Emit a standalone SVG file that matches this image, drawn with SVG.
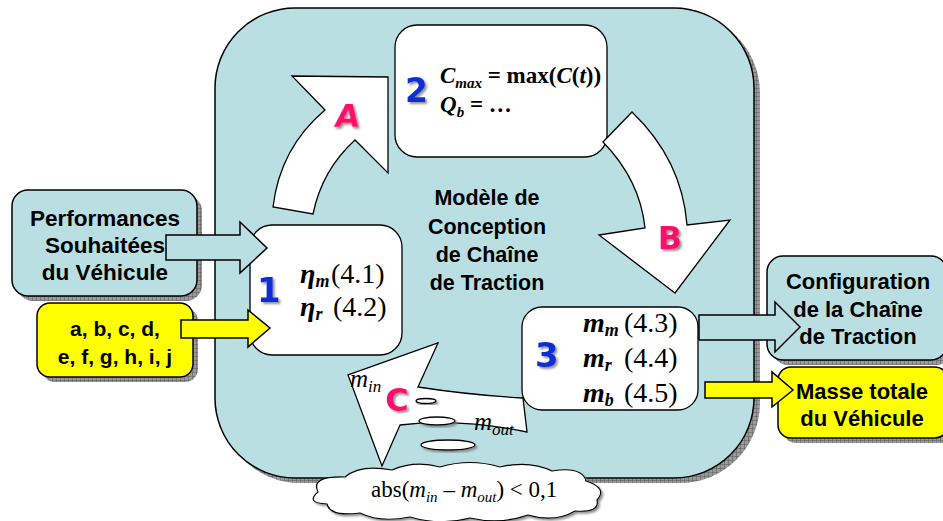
<svg xmlns="http://www.w3.org/2000/svg" width="943" height="521" viewBox="0 0 943 521">
<defs>
<pattern id="hatch" width="4" height="4" patternUnits="userSpaceOnUse">
<rect width="4" height="4" fill="#9a9a9a"/>
<path d="M0,0 H4 M0,0 V4" stroke="#5a5a5a" stroke-width="1"/>
</pattern>
<filter id="ds" x="-20%" y="-20%" width="150%" height="150%">
<feDropShadow dx="2" dy="2" stdDeviation="0.8" flood-color="#777" flood-opacity="0.8"/>
</filter>
</defs>
<style>
.teal{fill:#b9dfe3;stroke:#000;stroke-width:1.5}
.yel{fill:#ffff00;stroke:#000;stroke-width:1.5}
.wht{fill:#fff;stroke:#000;stroke-width:1.3}
.shd{fill:url(#hatch)}
.lbl{font-family:"Liberation Sans",Arial,sans-serif;font-weight:bold;fill:#000;text-anchor:middle}
.math{font-family:"Liberation Serif","Times New Roman",serif;fill:#000}
.bi{font-weight:bold;font-style:italic}
.it{font-style:italic}
.num{font-family:"DejaVu Sans",sans-serif;font-weight:bold;fill:#0b2fd4;filter:url(#ds)}
.let{font-family:"DejaVu Sans",sans-serif;font-weight:bold;fill:#ff0a6c;filter:url(#ds);text-anchor:middle}
</style>

<g id="panel">
<rect class="shd" x="220" y="13" width="540" height="470" rx="80"/>
<rect class="teal" x="215" y="8" width="539" height="470" rx="80"/>
<text class="lbl" font-size="21.5" x="487"><tspan x="487" y="205">Modèle de</tspan><tspan x="487" y="234">Conception</tspan><tspan x="487" y="262">de Chaîne</tspan><tspan x="487" y="290">de Traction</tspan></text>
</g>

<g id="perf">
<rect class="shd" x="17" y="195" width="185" height="106" rx="16"/>
<rect class="teal" x="12" y="190" width="185" height="106" rx="16"/>
<text class="lbl" font-size="22.5"><tspan x="105" y="226">Performances</tspan><tspan x="105" y="253">Souhaitées</tspan><tspan x="105" y="280">du Véhicule</tspan></text>
</g>

<g id="params">
<rect class="shd" x="42" y="308" width="156" height="74" rx="13"/>
<rect class="yel" x="37" y="303" width="156" height="74" rx="13"/>
<text class="lbl" font-size="21"><tspan x="115" y="336">a, b, c, d,</tspan><tspan x="115" y="364">e, f, g, h, i, j</tspan></text>
</g>

<g id="config">
<rect class="shd" x="772" y="261" width="180" height="104" rx="16"/>
<rect class="teal" x="767" y="256" width="180" height="104" rx="16"/>
<text class="lbl" font-size="22"><tspan x="858" y="289">Configuration</tspan><tspan x="858" y="317">de la Chaîne</tspan><tspan x="858" y="344">de Traction</tspan></text>
</g>

<g id="masse">
<rect class="shd" x="783" y="372" width="170" height="71" rx="13"/>
<rect class="yel" x="778" y="367" width="170" height="71" rx="13"/>
<text class="lbl" font-size="22"><tspan x="862" y="399">Masse totale</tspan><tspan x="862" y="426">du Véhicule</tspan></text>
</g>

<g id="box2">
<rect class="wht" x="395" y="25" width="212" height="132" rx="22"/>
<text class="num" font-size="33" x="405" y="102">2</text>
<text class="math" font-size="23" x="440" y="83"><tspan class="bi">C</tspan><tspan class="bi" font-size="15" dy="5">max</tspan><tspan font-weight="bold" dy="-5"> = max(</tspan><tspan class="bi">C</tspan><tspan font-weight="bold">(</tspan><tspan class="bi">t</tspan><tspan font-weight="bold">))</tspan></text>
<text class="math" font-size="23" x="440" y="112"><tspan class="bi">Q</tspan><tspan class="bi" font-size="15" dy="5">b</tspan><tspan font-weight="bold" dy="-5"> = …</tspan></text>
</g>

<g id="box1">
<rect class="wht" x="250" y="225" width="152" height="130" rx="22"/>
<text class="num" font-size="34" x="257" y="302">1</text>
<text class="math" font-size="28" x="300" y="283"><tspan class="bi">η</tspan><tspan class="bi" font-size="18" dy="4">m</tspan><tspan dy="-4" x="331">(4.1)</tspan></text>
<text class="math" font-size="28" x="300" y="316"><tspan class="bi">η</tspan><tspan class="bi" font-size="18" dy="4">r</tspan><tspan dy="-4" x="333">(4.2)</tspan></text>
</g>

<g id="box3">
<rect class="wht" x="522" y="307" width="176" height="103" rx="20"/>
<text class="num" font-size="34" x="535" y="367">3</text>
<text class="math" font-size="28" x="583" y="332"><tspan class="bi">m</tspan><tspan class="bi" font-size="18" dy="4">m</tspan><tspan dy="-4" x="624">(4.3)</tspan></text>
<text class="math" font-size="28" x="583" y="367"><tspan class="bi">m</tspan><tspan class="bi" font-size="18" dy="4">r</tspan><tspan dy="-4" x="624">(4.4)</tspan></text>
<text class="math" font-size="28" x="583" y="402"><tspan class="bi">m</tspan><tspan class="bi" font-size="18" dy="4">b</tspan><tspan dy="-4" x="624">(4.5)</tspan></text>
</g>

<g id="cloud">
<path d="M318,492 Q310,476 345,477 Q360,464 392,470 Q415,460 440,467 Q470,458 500,467 Q530,460 552,471 Q582,466 586,481 Q608,488 597,500 Q600,513 575,511 Q555,523 528,515 Q500,525 470,518 Q440,526 410,517 Q380,523 360,513 Q330,517 327,504 Q305,503 318,492 Z" fill="#fff" stroke="#000" stroke-width="1.2" filter="url(#ds)"/>
<text class="math" font-size="23" x="371" y="497">abs(<tspan class="it">m</tspan><tspan class="it" font-size="15" dy="5">in</tspan><tspan dy="-5"> – </tspan><tspan class="it">m</tspan><tspan class="it" font-size="15" dy="5">out</tspan><tspan dy="-5">) &lt; 0,1</tspan></text>
</g>

<g id="connectors">
<path class="teal" d="M166,235 L240,235 L240,222 L267,248 L240,273 L240,260 L166,260 Z"/>
<path class="yel" d="M181,320 L248,320 L248,310 L270,328 L248,347 L248,338 L181,338 Z"/>
<path class="teal" d="M699,315 L775,315 L775,302 L800,327 L775,352 L775,340 L699,340 Z"/>
<path class="yel" d="M705,382 L772,382 L772,372 L793,390 L772,407 L772,398 L705,398 Z"/>

<g id="arrowA">
<path class="wht" d="M273,207 Q280,148 325,110 L292,76 L388,77 L388,173 L355,140 Q322,170 313,214 Z"/>
<text class="let" font-size="32" x="347" y="127" transform="skewX(-8) translate(17,0)">A</text>
</g>
<g id="arrowB">
<path class="wht" d="M603,142 L632,112 Q682,160 687,225 L730,220 L675,293 L599,235 L645,228 Q640,180 603,142 Z"/>
<text class="let" font-size="32" x="670" y="249">B</text>
</g>
<g id="arrowC">
<path class="wht" d="M382,466 L348,375 L438,343 L418,387 Q470,395 523,398 L527,432 Q460,418 400,425 Z"/>
<ellipse cx="426" cy="401" rx="10" ry="2.5" class="wht" filter="url(#ds)"/>
<ellipse cx="437" cy="421" rx="18" ry="4" class="wht" filter="url(#ds)"/>
<ellipse cx="448" cy="445" rx="27" ry="5" class="wht" filter="url(#ds)"/>
<text class="math" font-size="25" x="350" y="387"><tspan class="it">m</tspan><tspan class="it" font-size="17" dy="5">in</tspan></text>
<text class="math" font-size="25" x="474" y="430"><tspan class="it">m</tspan><tspan class="it" font-size="17" dy="5">out</tspan></text>
<text class="let" font-size="32" x="397" y="411">C</text>
</g>
</g>
</svg>
